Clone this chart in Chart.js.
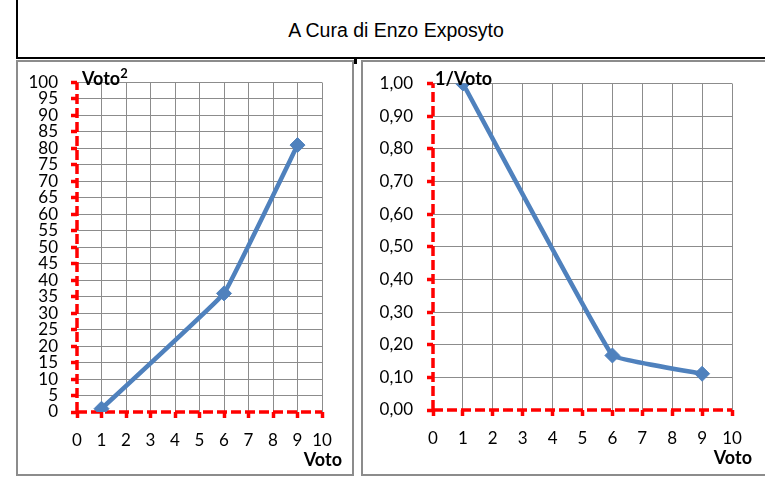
<!DOCTYPE html>
<html>
<head>
<meta charset="utf-8">
<script src="https://cdn.jsdelivr.net/npm/chart.js@4.4.0/dist/chart.umd.min.js"></script>
<style>
  html, body { margin: 0; padding: 0; background: #fff; }
  body { width: 765px; height: 477px; position: relative; overflow: hidden; }
  #header {
    position: absolute; left: 16px; top: -2px; width: 760px; height: 61px;
    border: 2px solid #000; box-sizing: border-box;
    font-family: 'Liberation Sans', Arial, sans-serif;
    font-size: 19.5px; text-align: center; line-height: 60px; color: #000;
  }
  #notch { position: absolute; left: 354px; top: 57px; width: 3px; height: 7px; background: #000; }
  .box { position: absolute; top: 60px; height: 416px; border: 2px solid #8c8c8c; box-sizing: border-box; }
  #box1 { left: 16px; width: 338px; }
  #box2 { left: 361px; width: 410px; }
  canvas { position: absolute; }
</style>
</head>
<body>
<div id="header">A Cura di Enzo Exposyto</div>
<div id="notch"></div>
<div class="box" id="box1"></div>
<div class="box" id="box2"></div>
<canvas id="squareChart" style="left:18px; top:61px; width:335px; height:413px;" width="335" height="413"></canvas>
<canvas id="inverseChart" style="left:363px; top:61px; width:400px; height:413px;" width="400" height="413"></canvas>

<script>
// Data
const votes = [1, 6, 9];
const squares = [1, 36, 81];
const inverses = [1.00, 0.167, 0.111];

const BLUE = '#4f81bd';
const RED = '#ff0000';
const GRID = '#8c8c8c';
const FONT = 'Lato, "Open Sans", sans-serif';

// Red dashed axes at x = 0 and y = 0, under the data
const redAxes = {
  id: 'redAxes',
  beforeDatasetsDraw(chart) {
    const { ctx, scales: { x, y } } = chart;
    const x0 = x.getPixelForValue(0);
    const y0 = y.getPixelForValue(0);
    ctx.save();
    ctx.strokeStyle = RED;
    ctx.lineWidth = 3.5;
    ctx.setLineDash([10, 4]);
    ctx.beginPath();
    ctx.moveTo(x0, y0);
    ctx.lineTo(x0, y.getPixelForValue(y.max));
    ctx.moveTo(x0, y0);
    ctx.lineTo(x.getPixelForValue(x.max), y0);
    ctx.stroke();
    ctx.restore();
  }
};

// Axis names drawn on top of the plot
const axisNames = {
  id: 'axisNames',
  afterDraw(chart, args, opts) {
    const { ctx, chartArea } = chart;
    ctx.save();
    ctx.fillStyle = '#000';
    ctx.textBaseline = 'middle';
    ctx.font = 'bold 18px ' + FONT;
    let x = chartArea.left + opts.yDx;
    const y = chartArea.top + opts.yDy;
    ctx.textAlign = 'left';
    ctx.fillText(opts.yName, x, y);
    if (opts.ySup) {
      x += ctx.measureText(opts.yName).width;
      ctx.font = 'bold 13px ' + FONT;
      ctx.fillText(opts.ySup, x, y - 5);
      ctx.font = 'bold 18px ' + FONT;
    }
    ctx.textAlign = 'right';
    ctx.fillText(opts.xName, chartArea.right + 20, chartArea.bottom + 48);
    ctx.restore();
  }
};

function noZero(color) {
  return ctx => (ctx.tick && ctx.tick.value === 0) ? 'rgba(0,0,0,0)' : color;
}

function makeChart(canvasId, values, yOpts, extra) {
  const points = votes.map((v, i) => ({ x: v, y: values[i] }));
  return new Chart(document.getElementById(canvasId), {
    type: 'line',
    data: {
      datasets: [{
        data: points,
        borderColor: BLUE,
        backgroundColor: BLUE,
        borderWidth: 4.5,
        tension: 0.06,
        pointStyle: 'rectRot',
        pointRadius: 7.5,
        pointBorderWidth: 1,
        pointBorderColor: BLUE,
        pointBackgroundColor: BLUE
      }]
    },
    options: {
      responsive: false,
      animation: false,
      devicePixelRatio: 1,
      layout: { padding: { top: 21, right: 31, left: 0, bottom: 0 } },
      plugins: {
        legend: { display: false },
        tooltip: { enabled: false },
        axisNames: extra.names
      },
      scales: {
        x: {
          type: 'linear',
          min: 0, max: 10,
          afterFit: s => { s.height = extra.xHeight; },
          ticks: { stepSize: 1, autoSkip: false, maxRotation: 0, padding: 12, color: '#000', font: { family: FONT, size: 17 } },
          grid: { color: noZero(GRID), lineWidth: 1, tickColor: RED, tickLength: 6, tickWidth: 3.5 },
          border: { display: false }
        },
        y: {
          min: 0, max: yOpts.max,
          afterFit: s => { s.width = extra.yWidth; },
          ticks: {
            stepSize: yOpts.step, autoSkip: false, padding: extra.yPad, color: '#000',
            font: { family: FONT, size: 17, lineHeight: 1 },
            callback: yOpts.format
          },
          grid: { color: noZero(GRID), lineWidth: 1, tickColor: RED, tickLength: 6, tickWidth: 3.5 },
          border: { display: false }
        }
      }
    },
    plugins: [redAxes, axisNames]
  });
}

makeChart('squareChart', squares,
  { max: 100, step: 5, format: v => String(v) },
  { xHeight: 62, yWidth: 59, yPad: 13,
    names: { yName: 'Voto', ySup: '2', yDx: 5, yDy: -3.5, xName: 'Voto' } });

makeChart('inverseChart', inverses,
  { max: 1, step: 0.1, format: v => v.toFixed(2).replace('.', ',') },
  { xHeight: 64, yWidth: 70, yPad: 14,
    names: { yName: '1/Voto', ySup: '', yDx: 2, yDy: -4.5, xName: 'Voto' } });
</script>
</body>
</html>
